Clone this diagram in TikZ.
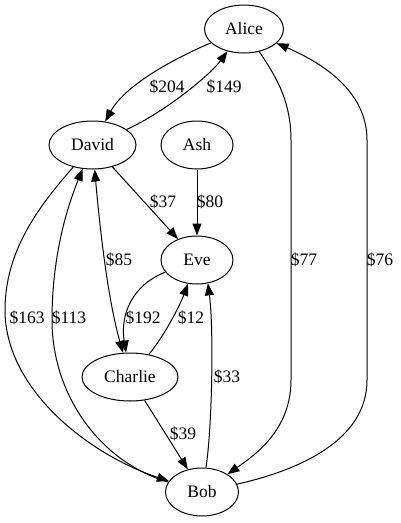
\documentclass[tikz,border=0pt]{standalone}
\usepackage{fontspec}
\setmainfont{Liberation Serif}
\usetikzlibrary{arrows.meta,shapes.geometric}
\tikzset{who/.style={ellipse,draw,line width=1pt,minimum width=72pt,minimum height=48pt,inner sep=0pt},
 pay/.style={-{Triangle[length=12pt,width=9pt]},line width=1pt},
 both/.style={{Triangle[length=12pt,width=9pt]}-{Triangle[length=12pt,width=9pt]},line width=1pt},
 amt/.style={inner sep=0pt}}
\begin{document}
\begin{tikzpicture}[x=1pt,y=-1pt,font=\fontsize{17.5}{20}\selectfont]
\useasboundingbox (0,0) rectangle (401,523);
\node[who,minimum width=79pt](alice) at (244,29){Alice};
\node[who,minimum width=87pt](david) at (92.5,145){David};
\node[who](ash) at (197,145){Ash};
\node[who](eve) at (197,260){Eve};
\node[who,minimum width=96pt](charlie) at (130,377){Charlie};
\node[who,minimum width=73pt](bob) at (202,492){Bob};
% top pair
\draw[pay](alice) .. controls (175,58) and (125,85) .. (david) node[amt] at (167,87){\$204};
\draw[pay](david) .. controls (165,112) and (210,75) .. (alice) node[amt] at (224,87){\$149};
% into eve
\draw[pay](ash) -- (eve) node[amt] at (210,202){\$80};
\draw[pay](david) -- (eve) node[amt] at (163,202){\$37};
\draw[both](david) .. controls (100,230) and (108,300) .. (charlie) node[amt] at (119,260){\$85};
\draw[pay](eve) .. controls (132,285) and (120,315) .. (charlie) node[amt] at (143,318){\$192};
\draw[pay](charlie) .. controls (165,335) and (180,305) .. (eve) node[amt] at (191,318){\$12};
\draw[pay](bob) .. controls (212,430) and (214,330) .. (eve.-65) node[amt] at (227,377){\$33};
\draw[pay](charlie) -- (bob) node[amt] at (183,434){\$39};
% long ones
\draw[pay](david) .. controls (40,205) and (5,250) .. (5,310) .. controls (5,390) and (90,455) .. (bob) node[amt] at (27,318){\$163};
\draw[pay](bob) .. controls (100,462) and (52,395) .. (52,320) .. controls (52,250) and (70,200) .. (david) node[amt] at (69,318){\$113};
\draw[pay](alice) .. controls (275,75) and (291,100) .. (291,140) -- (291,380) .. controls (291,430) and (255,455) .. (bob) node[amt] at (304,260){\$77};
\draw[pay](bob) .. controls (300,470) and (367,440) .. (367,380) -- (367,140) .. controls (367,90) and (320,62) .. (alice) node[amt] at (380,260){\$76};
\end{tikzpicture}
\end{document}
